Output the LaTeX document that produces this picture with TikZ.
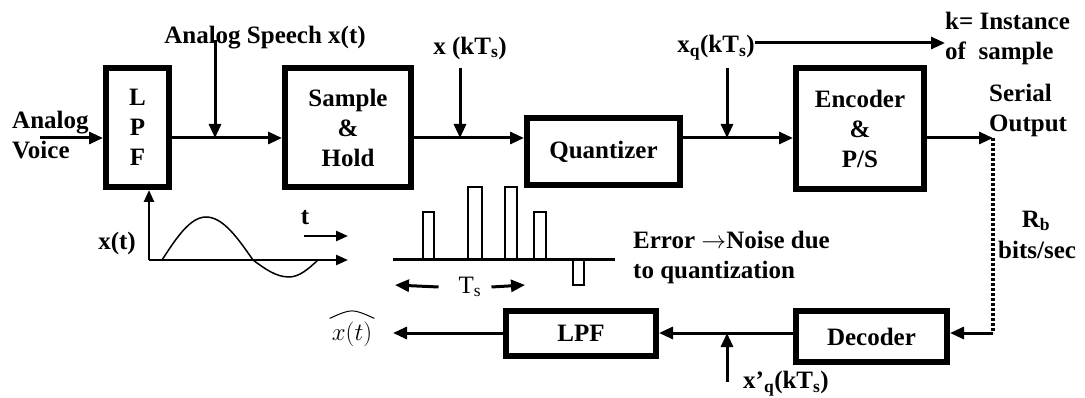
\documentclass[tikz,border=0pt]{standalone}
\usepackage{fontspec}
\setmainfont{Liberation Serif}
\usetikzlibrary{arrows.meta}

\begin{document}
\begin{tikzpicture}[x=1pt, y=-1pt,
    every node/.style = {font=\fontsize{25}{30}\selectfont\bfseries, text=black, inner sep=0pt},
    block/.style = {draw, line width=6pt, align=center},
    sig/.style = {line width=3pt, -{Triangle[length=14pt,width=12pt]}},
    small sig/.style = {line width=2.5pt, -{Triangle[length=12pt,width=10pt]}},
    thinline/.style = {line width=1.5pt}]
  \useasboundingbox (0,0) rectangle (1085,398);

  % blocks
  \node (lpf)   [block, minimum width=63,  minimum height=119] at (137.5,127.5) {L\\P\\F};
  \node (sh)    [block, minimum width=126, minimum height=119] at (348,127.5)   {Sample\\\&\\Hold};
  \node (quant) [block, minimum width=153, minimum height=67]  at (603.5,151.5) {Quantizer};
  \node (enc)   [block, minimum width=128, minimum height=121] at (860,128.5)   {Encoder\\\&\\P/S};
  \node (dec)   [block, minimum width=151, minimum height=51]  at (871.5,336.5) {Decoder};
  \node (lpf2)  [block, minimum width=150, minimum height=45]  at (581,333.5)   {LPF};

  % labels
  \node (voice)  [align=left, anchor=west] at (12,135) {Analog\\Voice};
  \node (speech) at (265,38) {Analog Speech x(t)};
  \node (xk)     at (470,48) {x (kT\textsubscript{s})};
  \node (xq)     at (716,48) {x\textsubscript{q}(kT\textsubscript{s})};
  \node (kinst)  [align=left, anchor=west] at (945,38) {k= Instance\\of\ \ sample};
  \node (serial) [align=left, anchor=west] at (989,110) {Serial\\Output};
  \node (rbits)  at (1036,221) {R\textsubscript{b}};
  \node (bits)   [anchor=west] at (998,250) {bits/sec};
  \node (xqp)    at (786,384) {x'\textsubscript{q}(kT\textsubscript{s})};
  \node (xhat)   [font=\fontsize{28}{30}\selectfont] at (352,334) {$x\Bigl(t\Bigr)$};
  \node (err)    [align=left, anchor=west] at (633,257) {Error $\rightarrow$Noise due\\to quantization};
  \node (xt)     at (117,243) {x(t)};
  \node (tlbl)   at (305,218) {t};
  \node (ts)     [font=\fontsize{25}{30}\selectfont] at (470,287) {T\textsubscript{s}};

  % hat over the output
  \draw[line width=1pt] ([shift={(-2,-3)}]xhat.north west) .. controls ([shift={(0,-13)}]xhat.north) .. ([shift={(2,-3)}]xhat.north east);

  % transmit chain
  \coordinate (vin)  at (40,138);
  \coordinate (sout) at (993,138);
  \draw[sig] (vin) -- (lpf.west |- vin);
  \draw[sig] (lpf.east |- vin) -- (sh.west |- vin);
  \draw[sig] (sh.east |- vin) -- (quant.west |- vin);
  \draw[sig] (quant.east |- vin) -- (enc.west |- vin);
  \draw[sig] (enc.east |- vin) -- (sout);

  \coordinate (sp0) at (215,40);
  \coordinate (xk0) at (460,68);
  \coordinate (xq0) at (727,68);
  \coordinate (k0)  at (755,43);
  \draw[sig] (sp0) -- (sp0 |- vin);
  \draw[sig] (xk0) -- (xk0 |- vin);
  \draw[sig] (xq0) -- (xq0 |- vin);
  \draw[sig] (k0) -- (kinst.west |- k0);

  % channel and receiver
  \coordinate (rb)   at (993,333);
  \coordinate (xqp0) at (727,382);
  \coordinate (yout) at (393,333);
  \draw[line width=4pt, dash pattern=on 3pt off 2pt] (sout) -- (rb);
  \draw[sig] (rb) -- (dec.east |- rb);
  \draw[sig] (dec.west |- rb) -- (lpf2.east |- rb);
  \draw[sig] (xqp0) -- (xqp0 |- rb);
  \draw[sig] (lpf2.west |- rb) -- (yout);

  % analog waveform
  \coordinate (org)  at (149,260);
  \coordinate (tend) at (348,260);
  \coordinate (ta)   at (304,236);
  \coordinate (tb)   at (348,236);
  \draw[small sig] (org) -- (lpf.south -| org);
  \draw[small sig] (org) -- (tend);
  \draw[small sig] (ta) -- (tb);
  \draw[thinline] (162,260) sin (206,217) cos (253,260) sin (289,277) cos (318,260);

  % sampled pulses
  \coordinate (p0) at (393,260);
  \coordinate (p1) at (615,260);
  \draw[line width=3pt] (p0) -- (p1);
  \foreach \xa/\xb/\ytop in {423/434/212, 468/482/187, 505/517/187, 534/546/212}
    \draw[thinline] (\xa,260) -- (\xa,\ytop) -- (\xb,\ytop) -- (\xb,260);
  \draw[thinline] (573,260) -- (573,285) -- (584,285) -- (584,260);
  \coordinate (tsl) at (395,285);
  \coordinate (tsr) at (525,285);
  \draw[sig] (ts.west) ++(-20,0) -- (tsl);
  \draw[sig] (ts.east) ++(10,0) -- (tsr);
\end{tikzpicture}
\end{document}
